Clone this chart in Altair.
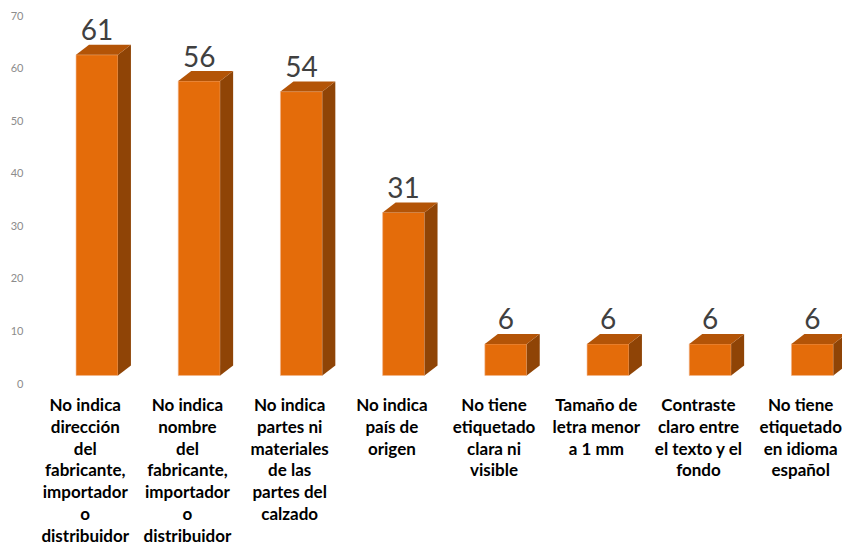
import altair as alt
import pandas as pd

categories = [
    "No indica\ndirección\ndel\nfabricante,\nimportador\no\ndistribuidor",
    "No indica\nnombre\ndel\nfabricante,\nimportador\no\ndistribuidor",
    "No indica\npartes ni\nmateriales\nde las\npartes del\ncalzado",
    "No indica\npaís de\norigen",
    "No tiene\netiquetado\nclara ni\nvisible",
    "Tamaño de\nletra menor\na 1 mm",
    "Contraste\nclaro entre\nel texto y el\nfondo",
    "No tiene\netiquetado\nen idioma\nespañol",
]
values = [61, 56, 54, 31, 6, 6, 6, 6]
y_ticks = [0, 10, 20, 30, 40, 50, 60, 70]

# 3D geometry (data units)
HALF_W = 0.205
DXU = 0.127
DYU = 1.90
BASE = 1.62
LABEL_SHIFT = -0.115

X_DOMAIN = [-0.6556, 7.2896]
Y_DOMAIN = [0, 70]

front_rows, side_rows, top_rows, lab_rows = [], [], [], []
for i, (c, v) in enumerate(zip(categories, values)):
    l, r = i - HALF_W, i + HALF_W
    front_rows.append({"id": i, "x": l, "x2": r, "y": v + BASE, "y2": BASE})
    side_rows += [
        {"id": i, "x": r, "y": v + BASE, "y2": BASE},
        {"id": i, "x": r + DXU, "y": v + BASE + DYU, "y2": BASE + DYU},
    ]
    top_rows += [
        {"id": i, "x": l, "y": v + BASE, "y2": v + BASE},
        {"id": i, "x": l + DXU, "y": v + BASE + DYU, "y2": v + BASE},
        {"id": i, "x": r, "y": v + BASE + DYU, "y2": v + BASE},
        {"id": i, "x": r + DXU, "y": v + BASE + DYU, "y2": v + BASE + DYU},
    ]
    lab_rows.append({"id": i, "x": i, "xl": i + LABEL_SHIFT, "v": v, "cat": c})

front_df = pd.DataFrame(front_rows)
side_df = pd.DataFrame(side_rows)
top_df = pd.DataFrame(top_rows)
lab_df = pd.DataFrame(lab_rows)

xs = alt.Scale(domain=X_DOMAIN, nice=False, zero=False)
ys = alt.Scale(domain=Y_DOMAIN, nice=False, zero=False)
y_axis = alt.Axis(
    values=y_ticks, grid=False, domain=False, ticks=False, labelPadding=7,
    labelColor="#8C8C8C", labelFont="Lato", labelFontSize=11, title=None)

front = alt.Chart(front_df).mark_rect(color="#E46C0A", stroke="#F2B48A", strokeWidth=0.6).encode(
    x=alt.X("x:Q", scale=xs, axis=None),
    x2="x2:Q",
    y=alt.Y("y:Q", scale=ys, axis=y_axis),
    y2="y2:Q",
)

side = alt.Chart(side_df).mark_area(color="#8F4406", orient="vertical", interpolate="linear").encode(
    x=alt.X("x:Q", scale=xs, axis=None),
    y=alt.Y("y:Q", scale=ys, axis=y_axis, stack=None),
    y2="y2:Q",
    detail="id:N",
)

top = alt.Chart(top_df).mark_area(color="#B35407", orient="vertical", interpolate="linear").encode(
    x=alt.X("x:Q", scale=xs, axis=None),
    y=alt.Y("y:Q", scale=ys, axis=y_axis, stack=None),
    y2="y2:Q",
    detail="id:N",
)

vals = alt.Chart(lab_df).mark_text(
    font="Lato", fontSize=28, color="#404040", dy=-23, baseline="alphabetic", align="center"
).encode(
    x=alt.X("x:Q", scale=xs, axis=None),
    y=alt.Y("v:Q", scale=ys, axis=y_axis),
    text="v:Q",
)

cats = alt.Chart(lab_df).mark_text(
    font="Lato", fontSize=17, fontWeight="bold", color="#000000", lineBreak="\n",
    lineHeight=21.8, baseline="alphabetic", align="center"
).encode(
    x=alt.X("xl:Q", scale=xs, axis=None),
    y=alt.value(395),
    text="cat:N",
)

chart = alt.layer(front, side, top, vals, cats).properties(
    width=812, height=368,
    autosize=alt.AutoSizeParams(type="none"),
    padding={"left": 22, "top": 8, "right": 0, "bottom": 164},
    background="white",
).configure_view(stroke=None)

chart.save("out.html", embed_options={"renderer": "svg", "actions": False})
